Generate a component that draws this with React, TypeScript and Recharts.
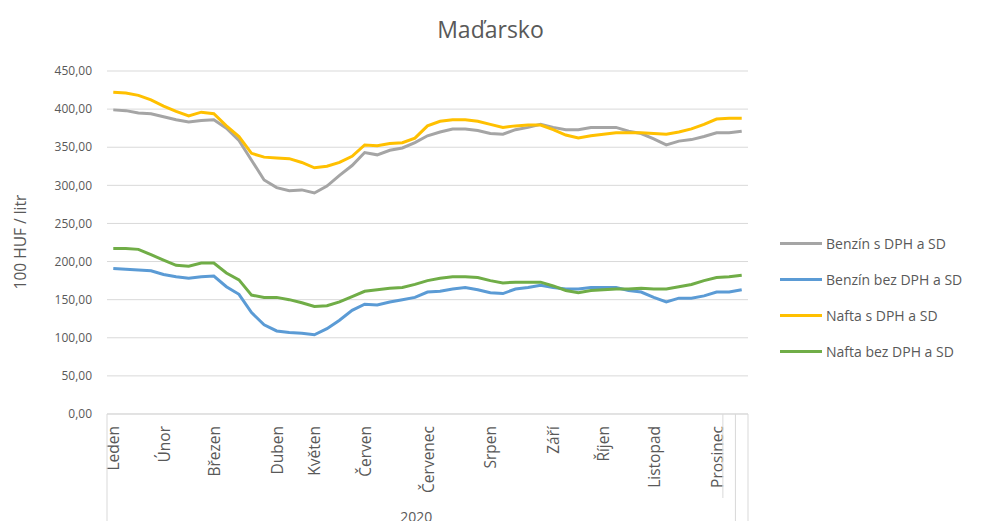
import { LineChart, Line, XAxis, YAxis, CartesianGrid, Legend } from 'recharts';

// weekly points, month name on the first week of each month
const monthLabels = [
  'Leden', '', '', '', 'Únor', '', '', '', 'Březen', '', '', '', '', 'Duben', '', '', 'Květen', '', '', '',
  'Červen', '', '', '', '', 'Červenec', '', '', '', '', 'Srpen', '', '', '', '', 'Září', '', '', '', 'Říjen',
  '', '', '', 'Listopad', '', '', '', '', 'Prosinec', '', '',
];

const benzinS = [
  399, 398, 395, 394, 390, 386, 383, 385, 386, 375, 359, 333, 307, 297, 293, 294, 290, 299, 313, 326,
  343, 340, 346, 349, 356, 365, 370, 374, 374, 372, 368, 367, 373, 376, 380, 376, 373, 373, 376, 376,
  376, 371, 368, 361, 353, 358, 360, 364, 369, 369, 371,
];
const benzinBez = [
  191, 190, 189, 188, 183, 180, 178, 180, 181, 167, 157, 133, 117, 109, 107, 106, 104, 112, 123, 136,
  144, 143, 147, 150, 153, 160, 161, 164, 166, 163, 159, 158, 164, 166, 169, 166, 164, 164, 166, 166,
  166, 162, 160, 153, 147, 152, 152, 155, 160, 160, 163,
];
const naftaS = [
  422, 421, 418, 412, 404, 397, 391, 396, 394, 378, 364, 342, 337, 336, 335, 330, 323, 325, 330, 338,
  353, 352, 355, 356, 362, 378, 384, 386, 386, 384, 380, 376, 378, 379, 379, 373, 366, 362, 365, 367,
  369, 369, 369, 368, 367, 370, 374, 380, 387, 388, 388,
];
const naftaBez = [
  217, 217, 216, 209, 202, 195, 194, 198, 198, 185, 176, 156, 153, 153, 150, 146, 141, 142, 147, 154,
  161, 163, 165, 166, 170, 175, 178, 180, 180, 179, 175, 172, 173, 173, 173, 168, 162, 159, 162, 163,
  164, 164, 165, 164, 164, 167, 170, 175, 179, 180, 182,
];

const yTicks = [0, 50, 100, 150, 200, 250, 300, 350, 400, 450];
const yearLabel = '2020';

const series = [
  { key: 'benzinS', name: 'Benzín s DPH a SD', color: '#A5A5A5' },
  { key: 'benzinBez', name: 'Benzín bez DPH a SD', color: '#5B9BD5' },
  { key: 'naftaS', name: 'Nafta s DPH a SD', color: '#FFC000' },
  { key: 'naftaBez', name: 'Nafta bez DPH a SD', color: '#70AD47' },
];

const data = monthLabels.map((m, i) => ({
  week: i + 1,
  month: m,
  benzinS: benzinS[i],
  benzinBez: benzinBez[i],
  naftaS: naftaS[i],
  naftaBez: naftaBez[i],
}));

const FONT = '"Open Sans", sans-serif';
const TEXT = '#595959';
const AXIS = '#d9d9d9';
const W = 981;
const H = 529;
const PLOT_LEFT = 107;
const PLOT_RIGHT = 748;
const STEP = (PLOT_RIGHT - PLOT_LEFT) / data.length;

function MonthTick(props: any) {
  const { x, y, index } = props;
  const label = monthLabels[index];
  const left = x - STEP / 2;
  const right = x + STEP / 2;
  return (
    <g>
      {label && (
        <text
          x={x}
          y={y + 12}
          transform={`rotate(-90, ${x}, ${y + 12})`}
          textAnchor="end"
          dominantBaseline="central"
          fill={TEXT}
          fontSize={15.5}
          fontFamily={FONT}
        >
          {label}
        </text>
      )}
      {index === 0 && (
        <>
          <line x1={left} x2={left} y1={y} y2={H} stroke={AXIS} />
          <text
            x={left + (STEP * (data.length - 1)) / 2 - 5}
            y={522}
            textAnchor="middle"
            fill={TEXT}
            fontSize={14}
            fontFamily={FONT}
          >
            {yearLabel}
          </text>
        </>
      )}
      {index === data.length - 3 && <line x1={right} x2={right} y1={y} y2={y + 84} stroke={AXIS} />}
      {index >= data.length - 2 && <line x1={right} x2={right} y1={y} y2={H} stroke={AXIS} />}
    </g>
  );
}

function LegendBox() {
  return (
    <div style={{ fontFamily: FONT, fontSize: 14, color: TEXT }}>
      {series.map((s) => (
        <div key={s.key} style={{ display: 'flex', alignItems: 'center', height: 36 }}>
          <span style={{ display: 'inline-block', width: 42, height: 3, background: s.color, marginRight: 4 }} />
          <span>{s.name}</span>
        </div>
      ))}
    </div>
  );
}

export default function App() {
  return (
    <div style={{ margin: -8, position: 'relative', width: W, height: H, background: '#fff' }}>
      <div
        style={{
          position: 'absolute', left: 0, top: 13, width: W, textAlign: 'center',
          fontFamily: FONT, fontSize: 23, color: TEXT, zIndex: 1,
        }}
      >
        Maďarsko
      </div>
      <div
        style={{
          position: 'absolute', left: 20 - 100, top: 242 - 10, width: 200, height: 20, lineHeight: '20px',
          textAlign: 'center', transform: 'rotate(-90deg)', fontFamily: FONT, fontSize: 15.5, color: TEXT, zIndex: 1,
        }}
      >
        100 HUF / litr
      </div>
      <LineChart width={W} height={H} data={data} margin={{ top: 71, right: W - PLOT_RIGHT, bottom: 0, left: PLOT_LEFT - 60 }}>
        <CartesianGrid vertical={false} stroke={AXIS} />
        <XAxis
          dataKey="week"
          interval={0}
          height={115}
          padding={{ left: STEP / 2, right: STEP / 2 }}
          tickLine={false}
          tickSize={0}
          tickMargin={0}
          stroke={AXIS}
          tick={<MonthTick />}
        />
        <YAxis
          width={60}
          domain={[0, 450]}
          ticks={yTicks}
          axisLine={false}
          tickLine={false}
          tickSize={6}
          tickMargin={9}
          tick={{ fill: TEXT, fontSize: 12, fontFamily: FONT }}
          tickFormatter={(v: number) => v.toFixed(2).replace('.', ',')}
        />
        <Legend
          layout="vertical"
          align="center"
          verticalAlign="middle"
          content={<LegendBox />}
          wrapperStyle={{ left: 780, top: 225, width: 200, height: 144 }}
        />
        {series.map((s) => (
          <Line
            key={s.key}
            dataKey={s.key}
            name={s.name}
            stroke={s.color}
            strokeWidth={3}
            dot={false}
            isAnimationActive={false}
          />
        ))}
      </LineChart>
    </div>
  );
}
